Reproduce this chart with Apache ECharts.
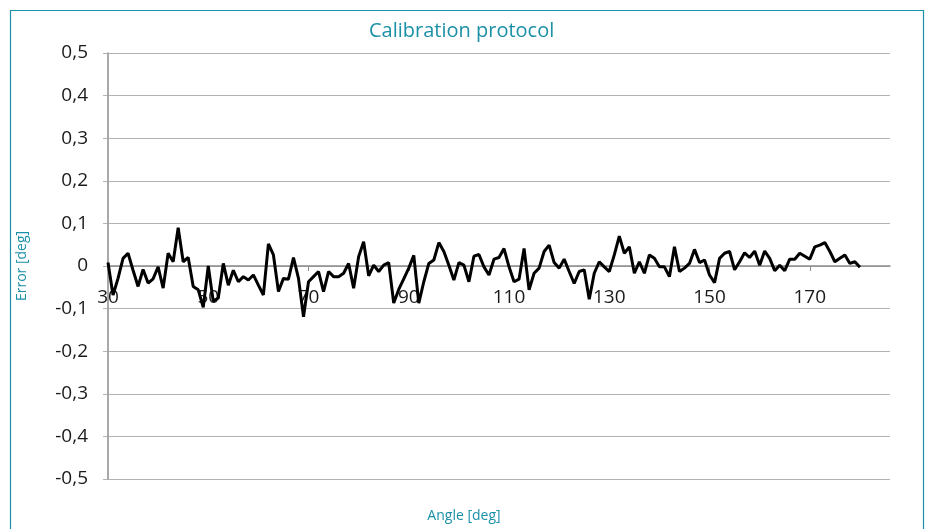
<!DOCTYPE html>
<html>
<head>
<meta charset="utf-8">
<title>Calibration protocol</title>
<script src="https://cdn.jsdelivr.net/npm/echarts@6/dist/echarts.min.js"></script>
<style>
  html, body { margin: 0; padding: 0; background: #fff; }
  #chart { width: 928px; height: 529px; }
</style>
</head>
<body>
<div id="chart"></div>
<script>
// angle [deg] of every measurement
const angles = [
  30, 31, 32, 33, 34, 35, 36, 37, 38, 39,
  40, 41, 42, 43, 44, 45, 46, 47, 48, 49,
  50, 51, 52, 53, 54, 55, 56, 57, 58, 59,
  60, 61, 62, 63, 64, 65, 66, 67, 68, 69,
  70, 71, 72, 73, 74, 75, 76, 77, 78, 79,
  80, 81, 82, 83, 84, 85, 86, 87, 88, 89,
  90, 91, 92, 93, 94, 95, 96, 97, 98, 99,
  100, 101, 102, 103, 104, 105, 106, 107, 108, 109,
  110, 111, 112, 113, 114, 115, 116, 117, 118, 119,
  120, 121, 122, 123, 124, 125, 126, 127, 128, 129,
  130, 131, 132, 133, 134, 135, 136, 137, 138, 139,
  140, 141, 142, 143, 144, 145, 146, 147, 148, 149,
  150, 151, 152, 153, 154, 155, 156, 157, 158, 159,
  160, 161, 162, 163, 164, 165, 166, 167, 168, 169,
  170, 171, 172, 173, 174, 175, 176, 177, 178, 179,
  180
];
// error [deg]
const errors = [
  0.008, -0.068, -0.029, 0.018, 0.030, -0.010, -0.048, -0.008, -0.040, -0.030,
  -0.002, -0.052, 0.030, 0.010, 0.090, 0.010, 0.020, -0.048, -0.056, -0.097,
  0.000, -0.083, -0.075, 0.006, -0.045, -0.010, -0.037, -0.025, -0.033, -0.021,
  -0.045, -0.068, 0.052, 0.026, -0.060, -0.029, -0.031, 0.020, -0.029, -0.119,
  -0.037, -0.025, -0.013, -0.060, -0.013, -0.025, -0.025, -0.017, 0.006, -0.052,
  0.022, 0.057, -0.023, 0.002, -0.013, 0.002, 0.008, -0.087, -0.055, -0.030,
  -0.005, 0.025, -0.087, -0.037, 0.006, 0.014, 0.055, 0.034, 0.002, -0.033,
  0.008, 0.002, -0.037, 0.023, 0.027, -0.002, -0.021, 0.016, 0.020, 0.041,
  -0.002, -0.037, -0.031, 0.041, -0.056, -0.017, -0.005, 0.034, 0.049, 0.008,
  -0.005, 0.016, -0.013, -0.041, -0.013, -0.009, -0.078, -0.017, 0.010, -0.002,
  -0.013, 0.026, 0.070, 0.030, 0.045, -0.017, 0.010, -0.017, 0.026, 0.018,
  -0.002, -0.002, -0.025, 0.045, -0.013, -0.005, 0.006, 0.039, 0.008, 0.014,
  -0.021, -0.039, 0.018, 0.030, 0.034, -0.009, 0.010, 0.031, 0.020, 0.035,
  0.002, 0.035, 0.018, -0.011, 0.002, -0.011, 0.016, 0.016, 0.030, 0.023,
  0.016, 0.045, 0.049, 0.055, 0.034, 0.010, 0.018, 0.026, 0.006, 0.010,
  -0.003
];
// axis labels
const xTickLabels = [30, 50, 70, 90, 110, 130, 150, 170];
const yTicks = [-0.5, -0.4, -0.3, -0.2, -0.1, 0, 0.1, 0.2, 0.3, 0.4, 0.5];

const teal = '#1c90a7';
const font = '"Open Sans", "Noto Sans", sans-serif';

let chart = echarts.init(document.getElementById('chart'), null, { renderer: 'canvas' });

let option = {
    backgroundColor: '#fff',
    animation: false,
    textStyle: { fontFamily: font },
    title: [
        { text: 'Calibration protocol', left: 364, top: 16, textStyle: { color: teal, fontSize: 20, fontWeight: 'normal', fontFamily: font } },
        { text: 'Angle [deg]', left: 'center', top: 504, textStyle: { color: teal, fontSize: 14, fontWeight: 'normal', fontFamily: font } }
    ],
    graphic: [
        // outer frame of the chart area
        { type: 'rect', left: 8, top: 8, shape: { width: 913, height: 600 }, style: { fill: 'none', stroke: teal, lineWidth: 1.2 }, silent: true }
    ],
    grid: [
        { left: 108, right: 38, top: 53, bottom: 50, containLabel: false },
        // upper half only: its bottom edge is the zero line, where the angle axis sits
        { left: 108, right: 38, top: 53, bottom: 263, containLabel: false }
    ],
    xAxis: [
        {
            type: 'value', gridIndex: 0, min: 30, max: 186,
            axisLine: { show: false }, axisTick: { show: false }, axisLabel: { show: false }, splitLine: { show: false }
        },
        {
            type: 'value', gridIndex: 1, min: 30, max: 186, interval: 20,
            axisLine: { show: true, onZero: false, lineStyle: { color: '#8c8c8c', width: 1.5 } },
            axisTick: { show: true, length: 5, inside: false, lineStyle: { color: '#8c8c8c' } },
            splitLine: { show: false },
            axisLabel: {
                margin: 22,
                fontSize: 19,
                color: '#1a1a1a',
                showMaxLabel: false,
                formatter: (v) => xTickLabels.indexOf(v) >= 0 ? String(v) : ''
            }
        }
    ],
    yAxis: [
        {
            type: 'value', gridIndex: 0,
            min: -0.5,
            max: 0.5,
            interval: 0.1,
            name: 'Error [deg]',
            nameLocation: 'middle',
            nameGap: 79,
            nameRotate: 90,
            nameTextStyle: { color: teal, fontSize: 14, fontFamily: font },
            axisLine: { show: true, onZero: false, lineStyle: { color: '#8c8c8c', width: 1.5 } },
            axisTick: { show: true, length: 5, lineStyle: { color: '#b3b3b3' } },
            splitLine: { show: true, lineStyle: { color: '#b3b3b3', width: 1.2 } },
            axisLabel: {
                margin: 20,
                fontSize: 19,
                color: '#1a1a1a',
                formatter: (v) => {
                    let r = Math.round(v * 10) / 10;
                    return yTicks.indexOf(r) >= 0 ? String(r).replace('.', ',') : '';
                }
            }
        },
        { type: 'value', gridIndex: 1, min: 0, max: 0.5, show: false }
    ],
    series: [
        {
            name: 'Error',
            type: 'line',
            xAxisIndex: 0,
            yAxisIndex: 0,
            showSymbol: false,
            smooth: false,
            z: 5,
            lineStyle: { color: '#000', width: 3 },
            data: angles.map((a, i) => [a, errors[i]])
        }
    ]
};
chart.setOption(option);
</script>
</body>
</html>
